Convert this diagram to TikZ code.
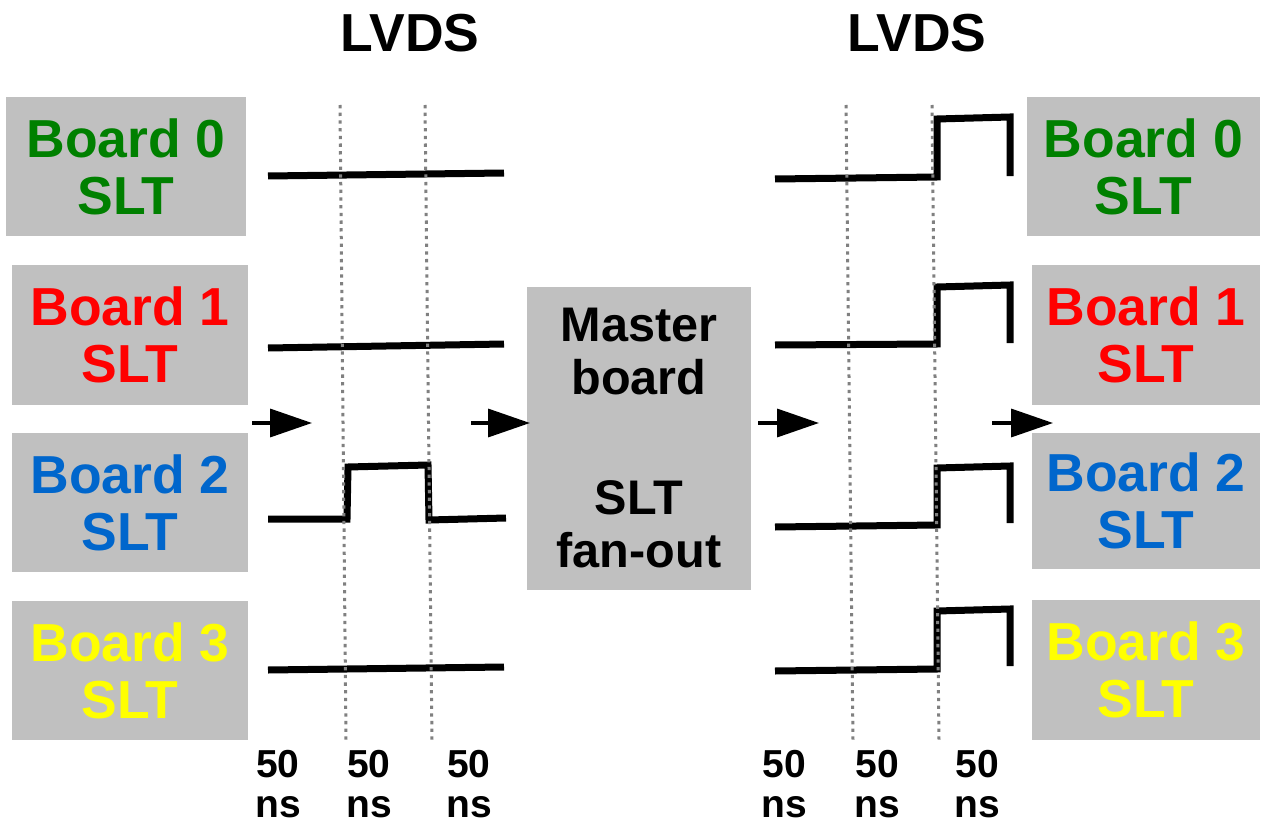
\documentclass[tikz,border=0pt]{standalone}
\usepackage{fontspec}
\setmainfont{Liberation Sans}
\usetikzlibrary{arrows.meta}
\definecolor{boxgray}{HTML}{C0C0C0}
\definecolor{dotgray}{HTML}{808080}
\definecolor{bgreen}{HTML}{008000}
\definecolor{bred}{HTML}{FF0000}
\definecolor{bblue}{HTML}{0066CC}
\definecolor{byellow}{HTML}{FFFF00}
\begin{document}
\begin{tikzpicture}[x=1pt,y=-1pt,
  board/.style={fill=boxgray, draw=none, inner sep=0pt, align=center,
    font=\fontsize{53.5}{57}\selectfont\bfseries},
  master/.style={fill=boxgray, draw=none, inner sep=0pt, align=center,
    font=\fontsize{48.6}{53}\selectfont\bfseries},
  sig/.style={line width=7pt, line join=miter},
  gridline/.style={draw=dotgray, line width=3pt, dash pattern=on 3.3pt off 4.4pt},
  arr/.style={line width=3.5pt, -{Triangle[length=42pt,width=28pt]}},
  lbl/.style={font=\fontsize{39}{40}\selectfont\bfseries, align=center},
  title/.style={font=\fontsize{53.5}{56}\selectfont\bfseries}
]
\useasboundingbox (0,0) rectangle (1261,824);
\fill[white] (0,0) rectangle (1261,824);

% titles
\node[title] (lvdsL) at (410,33) {LVDS};
\node[title] (lvdsR) at (917,33) {LVDS};

% left boards
\node[board, minimum width=240pt, minimum height=139pt, text=bgreen] (L0) at (126,166.5) {Board 0\\SLT};
\node[board, minimum width=236pt, minimum height=140pt, text=bred] (L1) at (130,335) {Board 1\\SLT};
\node[board, minimum width=236pt, minimum height=139pt, text=bblue] (L2) at (130,502.5) {Board 2\\SLT};
\node[board, minimum width=236pt, minimum height=139pt, text=byellow] (L3) at (130,670.5) {Board 3\\SLT};

% right boards
\node[board, minimum width=233pt, minimum height=139pt, text=bgreen] (R0) at (1143.5,166.5) {Board 0\\SLT};
\node[board, minimum width=228pt, minimum height=140pt, text=bred] (R1) at (1146,335) {Board 1\\SLT};
\node[board, minimum width=228pt, minimum height=136pt, text=bblue] (R2) at (1146,501) {Board 2\\SLT};
\node[board, minimum width=228pt, minimum height=140pt, text=byellow] (R3) at (1146,670) {Board 3\\SLT};

% master
\node[master, minimum width=224pt, minimum height=303pt] (M) at (639,438.5) {Master\\board\\[67pt]SLT\\fan-out};

% signals left
\draw[sig] (268,176) -- (504,173);
\draw[sig] (268,348) -- (504,344);
\draw[sig] (268,519) -- (347,519) -- (348,467) -- (428,465) -- (429,520) -- (506,518);
\draw[sig] (268,670) -- (504,667);

% signals right
\draw[sig] (775,179) -- (937,177) -- (937,119) -- (1010,117) -- (1010,176);
\draw[sig] (775,345) -- (937,344) -- (937,287) -- (1010,285) -- (1010,343);
\draw[sig] (775,527) -- (937,525) -- (937,468) -- (1010,466) -- (1010,523);
\draw[sig] (775,671) -- (937,669) -- (937,611) -- (1010,609) -- (1010,666);

% dotted time grid
\draw[gridline] (340,105) -- (346,740);
\draw[gridline] (425,105) -- (432,740);
\draw[gridline] (846,105) -- (853,740);
\draw[gridline] (932,105) -- (939,740);

% arrows
\coordinate (a1s) at (252,423); \coordinate (a1e) at (312,423);
\coordinate (a2s) at (471,423); \coordinate (a2e) at (530,423);
\coordinate (a3s) at (758,423); \coordinate (a3e) at (819,423);
\coordinate (a4s) at (992,423); \coordinate (a4e) at (1053,423);
\draw[arr] (a1s) -- (a1e);
\draw[arr] (a2s) -- (a2e);
\draw[arr] (a3s) -- (a3e);
\draw[arr] (a4s) -- (a4e);

% time labels
\node[lbl] (t1) at (278,784) {50\\ns};
\node[lbl] (t2) at (369,784) {50\\ns};
\node[lbl] (t3) at (469,784) {50\\ns};
\node[lbl] (t4) at (784,784) {50\\ns};
\node[lbl] (t5) at (877,784) {50\\ns};
\node[lbl] (t6) at (977,784) {50\\ns};
\end{tikzpicture}
\end{document}
